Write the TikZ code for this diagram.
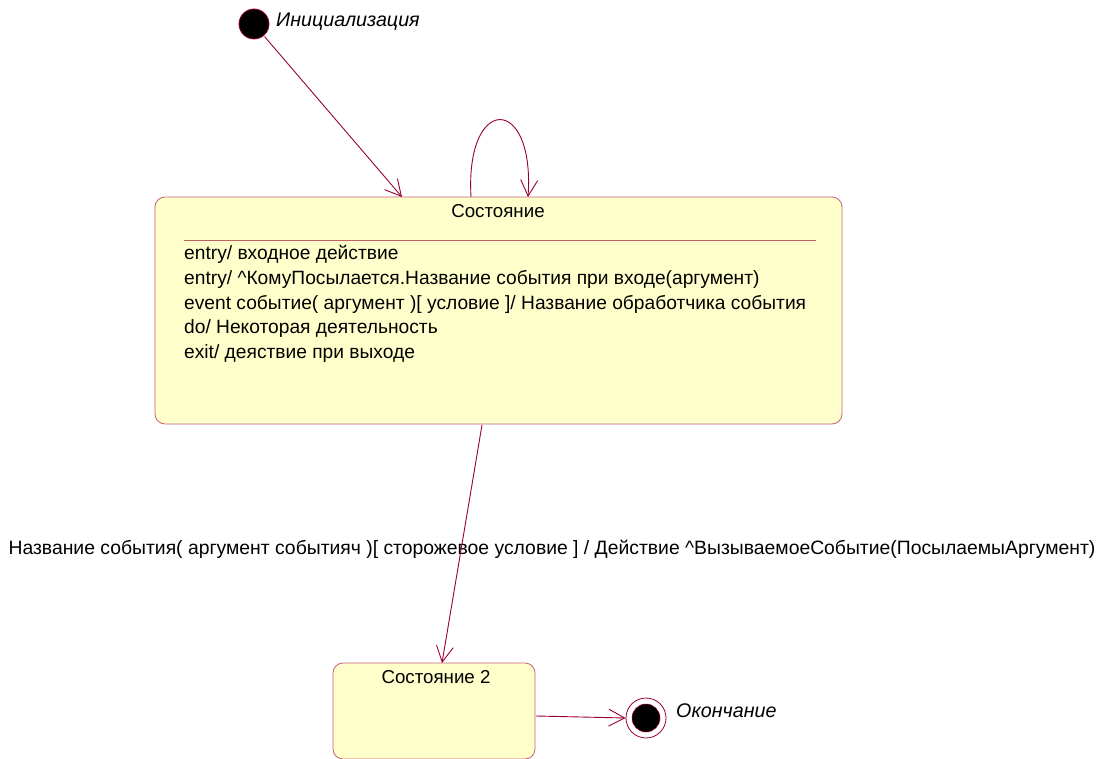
\documentclass[tikz,border=0pt]{standalone}
\usepackage{fontspec}
\setmainfont{Liberation Sans}
\usetikzlibrary{arrows.meta}
\definecolor{linered}{HTML}{990033}
\definecolor{boxred}{HTML}{C8607A}
\definecolor{sepred}{HTML}{C06060}
\definecolor{boxfill}{HTML}{FFFFCC}
\tikzset{
  conn/.style={linered, line width=0.9pt, -{Straight Barb[length=16pt,width=17pt,line width=0.9pt]}},
  statebox/.style={draw=boxred, fill=boxfill, line width=0.8pt, rounded corners=10pt, inner sep=0pt},
  txt/.style={inner sep=0pt, font=\fontsize{18.7}{21}\selectfont},
  ltxt/.style={inner sep=0pt, font=\fontsize{19.35}{21}\selectfont},
  itxt/.style={inner sep=0pt, font=\fontsize{19.7}{21}\selectfont\itshape},
  btxt/.style={inner sep=0pt, anchor=base west, font=\fontsize{19.2}{21}\selectfont}
}
\begin{document}
\begin{tikzpicture}[x=1pt,y=-1pt]
\useasboundingbox (0,0) rectangle (1103,759);
% initial state
\node[circle, fill=black, draw=linered, line width=0.8pt, minimum size=30pt, inner sep=0pt] (init) at (254,24) {};
\node[itxt, anchor=west] (initlabel) at (276,22) {Инициализация};
% state 1
\node[statebox, minimum width=687pt, minimum height=227pt] (s1) at (498.5,310.5) {};
\node[txt] (s1title) at (498,211) {Состояние};
\coordinate (sepL) at (184,240);
\coordinate (sepR) at (816,240);
\draw[sepred, line width=0.9pt] (sepL) -- (sepR);
\node[btxt] (b1) at (184,260) {entry/ входное действие};
\node[btxt] (b2) at (184,284.5) {entry/ \^{}КомуПосылается.Название события при входе(аргумент)};
\node[btxt] (b3) at (184,309) {event событие( аргумент )[ условие ]/ Название обработчика события};
\node[btxt] (b4) at (184,333.5) {do/ Некоторая деятельность};
\node[btxt] (b5) at (184,358) {exit/ деяствие при выходе};
% attach points
\coordinate (s1in) at (402,197);
\coordinate (loopA) at (471,197);
\coordinate (loopB) at (528,197);
\coordinate (s1out) at (482,425);
% state 2
\node[statebox, minimum width=202pt, minimum height=96pt] (s2) at (434,711) {};
\node[txt] (s2title) at (436,677) {Состояние 2};
\coordinate (s2in) at (442,663);
\coordinate (s2out) at (536,716);
% final state
\node[circle, draw=linered, fill=white, line width=0.8pt, minimum size=40pt, inner sep=0pt] (fin) at (646,718) {};
\node[circle, fill=black, draw=linered, line width=0.5pt, minimum size=28pt, inner sep=0pt] (fincore) at (fin) {};
\node[itxt, anchor=west] (finlabel) at (676,711) {Окончание};
% transition label
\node[ltxt] (translabel) at (552,549) {Название события( аргумент событияч )[ сторожевое условие ] / Действие \^{}ВызываемоеСобытие(ПосылаемыАргумент)};
% connectors
\draw[conn, shorten <=1pt] (init.-50) -- (s1in);
\draw[conn] (loopA) .. controls (465,94) and (535,94) .. (loopB);
\draw[conn] (s1out) -- (s2in);
\draw[conn] (s2out) -- (fin.west);
\end{tikzpicture}
\end{document}
